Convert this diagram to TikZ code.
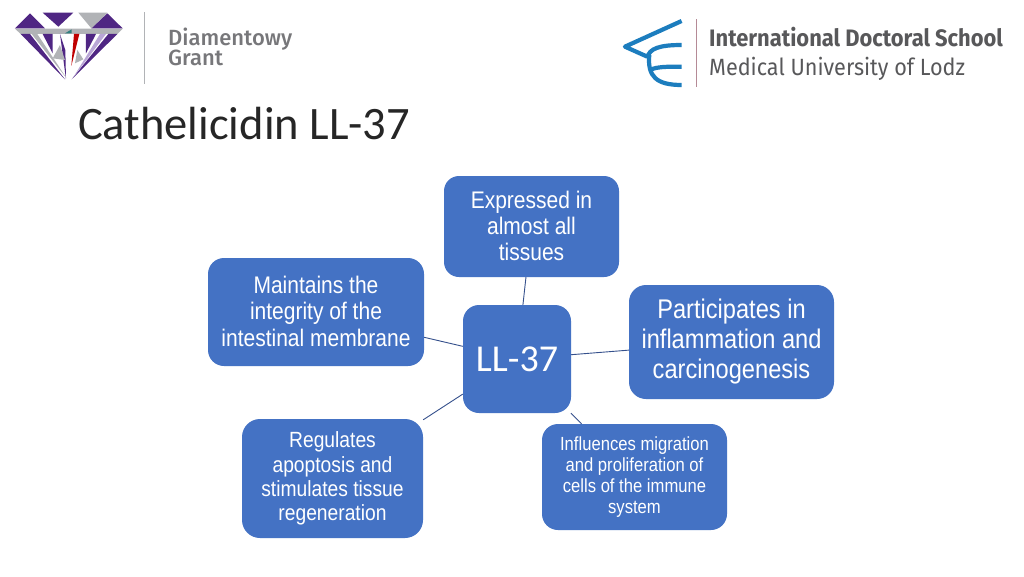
\documentclass[tikz,border=0pt]{standalone}
\usepackage{fontspec}
\setmainfont{Carlito}
\newfontfamily\boxfont[FakeStretch=0.875]{Liberation Sans}
\newfontfamily\logofont[FakeStretch=0.92]{Fira Sans}
\newfontfamily\dgfont{Fira Sans Medium}
\definecolor{boxblue}{HTML}{4472C4}
\definecolor{edgeblue}{HTML}{35508C}
\definecolor{dpurple}{HTML}{4F2683}
\definecolor{lpurple}{HTML}{B9A6D6}
\definecolor{dgray}{HTML}{B1B3B6}
\definecolor{txgray}{HTML}{77777A}
\definecolor{logoblue}{HTML}{1C7DBE}
\definecolor{sepred}{HTML}{B58A96}
\definecolor{idsgray}{HTML}{58585A}
\tikzset{
  bx/.style={fill=boxblue,text=white,align=center,inner sep=0pt,draw=none},
  link/.style={draw=edgeblue,line width=0.9pt},
  capline/.style={draw=logoblue,line width=4.2pt},
}
\begin{document}
\begin{tikzpicture}[x=1pt,y=-1pt]
\useasboundingbox (0,0) rectangle (1024,576);
\fill[white] (0,0) rectangle (1024,576);

\node[bx,rounded corners=16pt,minimum width=108pt,minimum height=108pt,font=\fontsize{38}{42}\selectfont] (c) at (517,359) {LL-37};
\node[bx,rounded corners=15pt,minimum width=175pt,minimum height=101pt,font=\boxfont\fontsize{24}{26}\selectfont] (t) at (531.5,226.5) {\raisebox{1pt}{Expressed in}\\\raisebox{1pt}{almost all}\\\raisebox{1pt}{tissues}};
\node[bx,rounded corners=17pt,minimum width=205pt,minimum height=114pt,font=\boxfont\fontsize{27}{30}\selectfont] (r) at (731.5,342) {\raisebox{-1pt}{Participates in}\\\raisebox{-1pt}{inflammation and}\\\raisebox{-1pt}{carcinogenesis}};
\node[bx,rounded corners=16pt,minimum width=216pt,minimum height=108pt,font=\boxfont\fontsize{24}{26.5}\selectfont] (l) at (316,312) {\raisebox{2pt}{Maintains the}\\\raisebox{2pt}{integrity of the}\\\raisebox{2pt}{intestinal membrane}};
\node[bx,rounded corners=18pt,minimum width=181pt,minimum height=119pt,font=\boxfont\fontsize{22}{24.3}\selectfont] (bl) at (332.5,478.5) {\raisebox{-1pt}{Regulates}\\\raisebox{-1pt}{apoptosis and}\\\raisebox{-1pt}{stimulates tissue}\\\raisebox{-1pt}{regeneration}};
\node[bx,rounded corners=16pt,minimum width=185pt,minimum height=106pt,font=\boxfont\fontsize{19}{21}\selectfont] (br) at (634.5,477) {\raisebox{-1pt}{Influences migration}\\\raisebox{-1pt}{and proliferation of}\\\raisebox{-1pt}{cells of the immune}\\\raisebox{-1pt}{system}};
\draw[link] (c) -- (t);
\draw[link] (c) -- (r);
\draw[link] (c) -- (l);
\draw[link] (c) -- (bl);
\draw[link] (c) -- (br);

% title
\node[anchor=base west,inner sep=0pt,text=black!85,font=\fontsize{46.5}{50}\selectfont] (title) at (78,139) {Cathelicidin LL-37};

% left logo (diamond)
\begin{scope}[x=0.3333pt,y=-0.3333pt]
\fill[dgray] (45,86) -- (368,86) -- (352,102) -- (62,102) -- cycle;
\fill[dgray] (235,38) -- (322,38) -- (275,86) -- cycle;
\fill[dpurple] (45,85) -- (90,40) -- (135,85) -- cycle;
\fill[dpurple] (128,38) -- (220,38) -- (175,80) -- cycle;
\fill[dpurple] (275,85) -- (322,40) -- (368,85) -- cycle;
\fill[dpurple] (62,102) -- (90,102) -- (195,238) -- cycle;
\fill[dpurple] (128,102) -- (158,102) -- (158,160) -- cycle;
\fill[dpurple] (180,102) -- (198,238) -- (196,150) -- cycle;
\fill[dpurple] (258,102) -- (288,102) -- (258,160) -- cycle;
\fill[dpurple] (325,102) -- (352,102) -- (215,238) -- cycle;
\fill[lpurple] (300,102) -- (318,102) -- (218,235) -- cycle;
\fill[dgray] (95,102) -- (112,102) -- (200,235) -- cycle;
\fill[dgray] (158,175) -- (180,135) -- (195,180) -- cycle;
\fill[dgray] (232,150) -- (250,178) -- (225,190) -- cycle;
\fill[red!75!black] (222,102) -- (238,102) -- (214,198) -- cycle;
\fill[teal!60!gray] (195,100) -- (215,88) -- (215,100) -- cycle;
\end{scope}
\coordinate (ds1) at (144.5,12);
\coordinate (ds2) at (144.5,84);
\draw[dgray,line width=1.2pt] (ds1) -- (ds2);
\node[anchor=base west,inner sep=0pt,text=txgray,font=\dgfont\fontsize{22}{24}\selectfont] (dg1) at (168,45) {Diamentowy};
\node[anchor=base west,inner sep=0pt,text=txgray,font=\dgfont\fontsize{22}{24}\selectfont] (dg2) at (168,65) {Grant};

% right logo (cap)
\begin{scope}[x=0.3333pt,y=-0.3333pt,shift={(1830,15)}]
\draw[capline,line join=round] (215,48) -- (45,125) -- (112,155);
\draw[capline] (112,158) .. controls (118,130) and (150,120) .. (215,120);
\draw[capline] (118,150) .. controls (112,215) and (140,240) .. (215,240);
\draw[capline] (120,195) .. controls (140,185) and (170,185) .. (215,185);
\end{scope}
\coordinate (is1) at (696,19);
\coordinate (is2) at (696,87);
\draw[sepred,line width=1pt] (is1) -- (is2);
\node[anchor=base west,inner sep=0pt,text=idsgray,font=\logofont\fontsize{23.8}{26}\selectfont\bfseries] (ids1) at (709,46) {International Doctoral School};
\node[anchor=base west,inner sep=0pt,text=idsgray,font=\logofont\fontsize{23.5}{26}\selectfont] (ids2) at (709,75) {Medical University of Lodz};
\end{tikzpicture}
\end{document}
